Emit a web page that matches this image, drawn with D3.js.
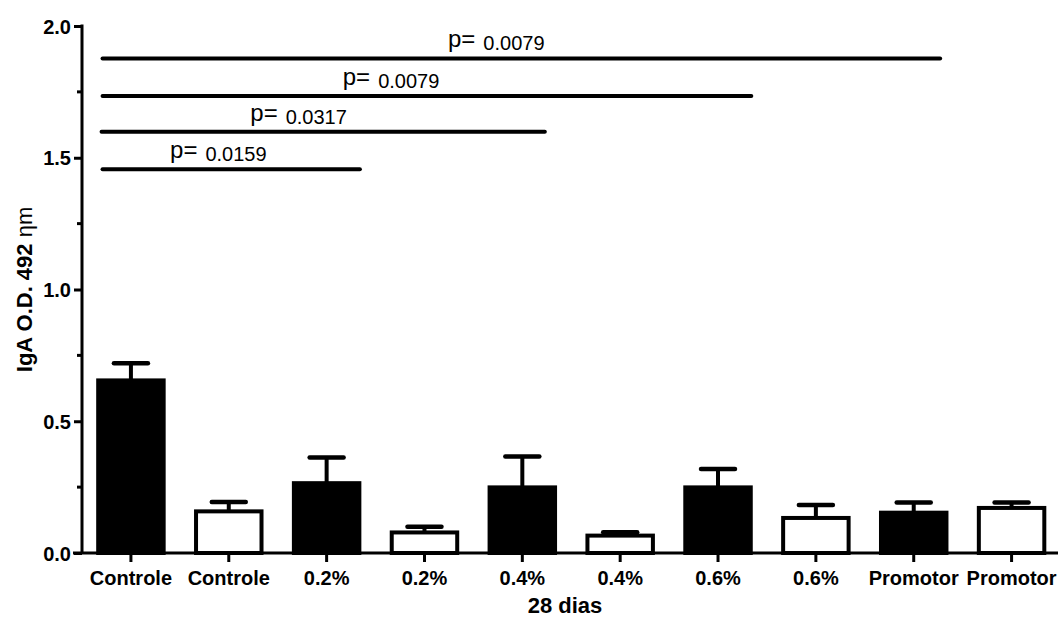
<!DOCTYPE html>
<html>
<head>
<meta charset="utf-8">
<script src="https://cdn.jsdelivr.net/npm/d3@7"></script>
<style>
  html, body { margin: 0; padding: 0; background: #fff; }
  svg { display: block; }
</style>
</head>
<body>
<svg id="chart" width="1058" height="619"></svg>
<script>
// ---- data ----
const categories = ["Controle", "Controle", "0.2%", "0.2%", "0.4%", "0.4%", "0.6%", "0.6%", "Promotor", "Promotor"];
const groupType  = ["filled", "open", "filled", "open", "filled", "open", "filled", "open", "filled", "open"];
const means      = [0.655, 0.158, 0.265, 0.078, 0.249, 0.066, 0.249, 0.133, 0.153, 0.171];
const upperErr   = [0.72, 0.194, 0.362, 0.100, 0.366, 0.079, 0.319, 0.182, 0.192, 0.192];
const yTicks      = [0, 0.5, 1.0, 1.5, 2.0];
const yMinorTicks = [0.25, 0.75, 1.25, 1.75];
// significance bars (x in category-index units, y in data units)
const compStart   = [-0.29, -0.30, -0.29, -0.29];
const compEnd     = [2.34, 4.23, 6.34, 8.27];
const compY       = [1.456, 1.599, 1.734, 1.877];
const compP       = ["0.0159", "0.0317", "0.0079", "0.0079"];
const compLabelAt = [0.40, 1.22, 2.165, 3.24];
const xTitle = "28 dias";
const yTitle = "IgA O.D. 492";
const yTitleUnit = "\u03b7m";

// ---- layout ----
const svg = d3.select("#chart");
const font = "'Liberation Sans', Arial, sans-serif";
const axisX = 82, baseY = 553, topY = 26;

const y = d3.scaleLinear().domain([0, 2]).range([baseY, topY]);
const x = d3.scaleBand()
  .domain(d3.range(categories.length))
  .range([axisX, 1060.5])
  .paddingInner(0.29)
  .paddingOuter(0.145);
const bw = x.bandwidth();
const cx = i => x(i) + bw / 2;
const xi = d3.scaleLinear().domain([0, 1]).range([cx(0), cx(1)]);

// bars
const data = categories.map((c, i) => ({ i, c, t: groupType[i], m: means[i], u: upperErr[i] }));
const sw = 4;
svg.append("g").selectAll("rect").data(data).join("rect")
  .attr("x", d => x(d.i) + sw / 2)
  .attr("width", bw - sw)
  .attr("y", d => y(d.m))
  .attr("height", d => y(0) - y(d.m))
  .attr("fill", d => d.t === "filled" ? "#000" : "#fff")
  .attr("stroke", "#000")
  .attr("stroke-width", sw);

// error bars
const eb = svg.append("g").attr("stroke", "#000");
eb.selectAll("line.v").data(data).join("line").attr("class", "v")
  .attr("x1", d => cx(d.i)).attr("x2", d => cx(d.i))
  .attr("y1", d => y(d.m)).attr("y2", d => y(d.u))
  .attr("stroke-width", 4);
eb.selectAll("line.c").data(data).join("line").attr("class", "c")
  .attr("x1", d => cx(d.i) - 17).attr("x2", d => cx(d.i) + 17)
  .attr("y1", d => y(d.u)).attr("y2", d => y(d.u))
  .attr("stroke-width", 4.5).attr("stroke-linecap", "round");

// y axis
const yAxis = svg.append("g").attr("transform", `translate(${axisX},0)`)
  .call(d3.axisLeft(y).tickValues(yTicks).tickFormat(d3.format(".1f")).tickSize(8).tickPadding(3));
yAxis.select(".domain").attr("stroke-width", 3).attr("d", `M0,${y(2) - 1.5}V${y(0)}`);
yAxis.selectAll(".tick line").attr("stroke-width", 3);
yAxis.selectAll(".tick text")
  .attr("font-family", font).attr("font-size", 20).attr("font-weight", "bold").attr("fill", "#000")
  .attr("dy", "0.36em");
svg.append("g").selectAll("line").data(yMinorTicks).join("line")
  .attr("x1", axisX - 5).attr("x2", axisX)
  .attr("y1", d => y(d)).attr("y2", d => y(d))
  .attr("stroke", "#000").attr("stroke-width", 3);

// x axis
const xAxis = svg.append("g").attr("transform", `translate(0,${baseY})`)
  .call(d3.axisBottom(x).tickFormat(i => categories[i]).tickSize(9).tickPadding(9));
xAxis.select(".domain").remove();
xAxis.selectAll(".tick line").attr("stroke-width", 3);
xAxis.selectAll(".tick text")
  .attr("font-family", font).attr("font-size", 20).attr("font-weight", "bold").attr("fill", "#000");
svg.append("line")
  .attr("x1", axisX - 9).attr("x2", 1058)
  .attr("y1", baseY).attr("y2", baseY)
  .attr("stroke", "#000").attr("stroke-width", 3);

// significance bars
const comps = compP.map((p, k) => ({ p, s: compStart[k], e: compEnd[k], v: compY[k], l: compLabelAt[k] }));
svg.append("g").selectAll("line").data(comps).join("line")
  .attr("x1", d => xi(d.s)).attr("x2", d => xi(d.e))
  .attr("y1", d => y(d.v)).attr("y2", d => y(d.v))
  .attr("stroke", "#000").attr("stroke-width", 4).attr("stroke-linecap", "round");
const lab = svg.append("g").selectAll("text").data(comps).join("text")
  .attr("x", d => xi(d.l))
  .attr("y", d => y(d.v) - 11)
  .attr("font-family", font).attr("fill", "#000");
lab.append("tspan").attr("font-size", 24).text("p=");
lab.append("tspan").attr("font-size", 20).attr("dx", 8).attr("dy", 3).text(d => d.p);

// axis titles
svg.append("text")
  .attr("x", (axisX + 1058) / 2 - 5).attr("y", 613)
  .attr("text-anchor", "middle")
  .attr("font-family", font).attr("font-size", 22).attr("font-weight", "bold")
  .text(xTitle);
const yt = svg.append("text")
  .attr("transform", `translate(32,${(y(0) + y(2)) / 2}) rotate(-90)`)
  .attr("text-anchor", "middle")
  .attr("font-family", font).attr("font-size", 22).attr("font-weight", "bold");
yt.append("tspan").text(yTitle + " ");
yt.append("tspan").attr("font-weight", "normal").text(yTitleUnit);
</script>
</body>
</html>
